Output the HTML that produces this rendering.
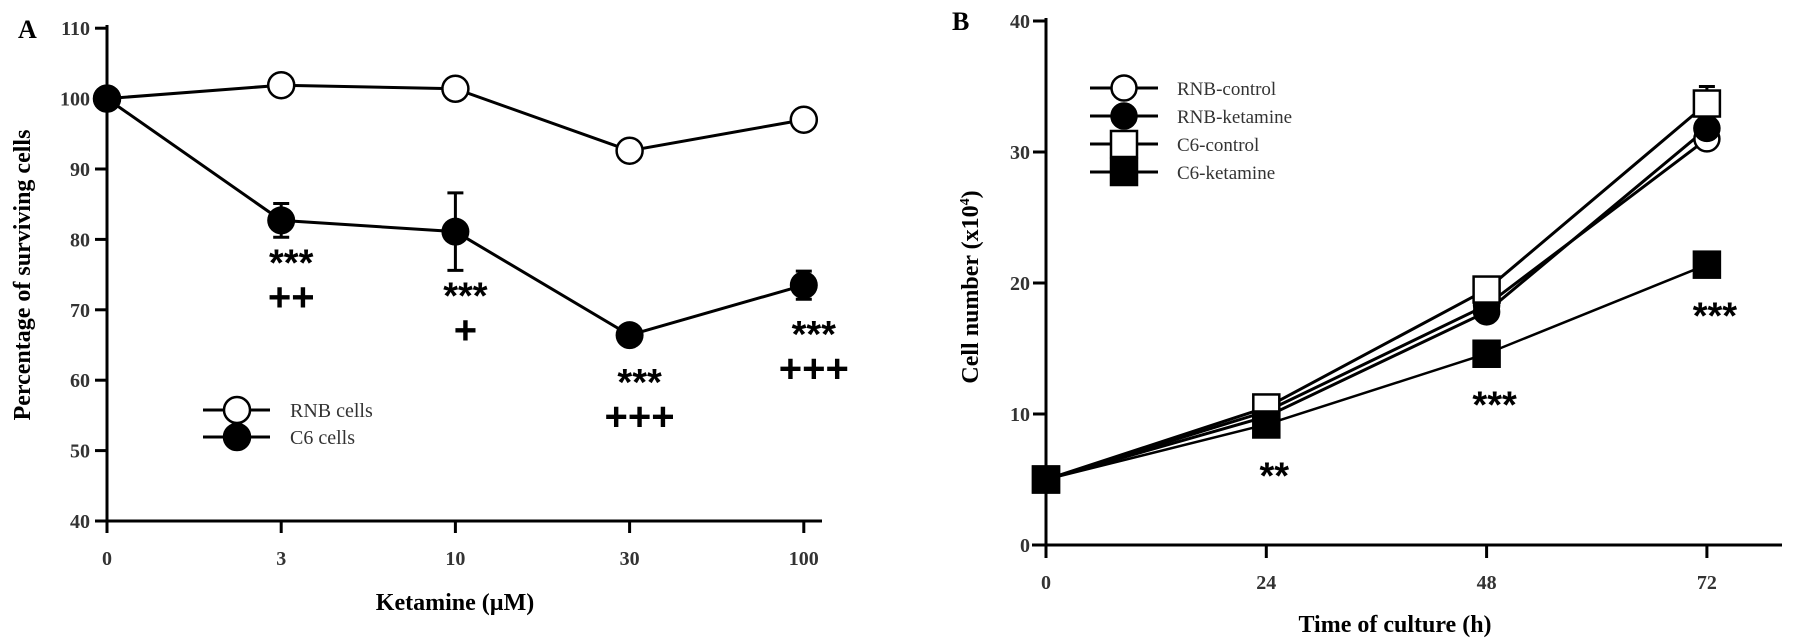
<!DOCTYPE html>
<html><head><meta charset="utf-8"><style>
html,body{margin:0;padding:0;background:#fff;}
svg{display:block;font-family:"Liberation Serif",serif;}
</style></head><body>
<svg id="fig" width="1795" height="643" viewBox="0 0 1795 643" xmlns="http://www.w3.org/2000/svg"></svg>
<script>
// Panel A data
const aCats = ["0","3","10","30","100"];
const aRNB = [100, 101.9, 101.4, 92.6, 97.0];
const aC6 = [100, 82.7, 81.1, 66.4, 73.5];
const aC6Err = [0, 2.4, 5.5, 0, 2.0];
const aYTicks = [40,50,60,70,80,90,100,110];
const aStars = ["", "***", "***", "***", "***"];
const aPlus = ["", "++", "+", "+++", "+++"];
// Panel B data
const bCats = [0,24,48,72];
const bRNBc = [5, 10.2, 18.3, 31.0];
const bRNBk = [5, 9.8, 17.8, 31.8];
const bC6c = [5, 10.5, 19.5, 33.7];
const bC6cErr = [0, 0, 0, 1.3];
const bC6k = [5, 9.2, 14.6, 21.4];
const bYTicks = [0,10,20,30,40];
const bStars = ["", "**", "***", "***"];

const svg = document.getElementById('fig');
const NS = "http://www.w3.org/2000/svg";
function mk(tag, attrs, parent){const e=document.createElementNS(NS,tag);for(const k in attrs)e.setAttribute(k,attrs[k]);(parent||svg).appendChild(e);return e;}
function txt(s, attrs){const e=mk('text',attrs);e.textContent=s;return e;}

// ---- Panel A ----
const ax = i => 107 + i*174.2;
const ay = v => 521 - (v-40)*7.04;
let e;
e=txt("A",{x:18,y:38,'font-size':26,'font-weight':'bold'});

e=mk('line',{x1:107,y1:25,x2:107,y2:527,stroke:'#000','stroke-width':3});

e=mk('line',{x1:105,y1:521,x2:822,y2:521,stroke:'#000','stroke-width':3});

aYTicks.forEach(v=>{
  mk('line',{x1:95,y1:ay(v),x2:107,y2:ay(v),stroke:'#000','stroke-width':3});
  e=txt(String(v),{x:90,y:ay(v)+7,'font-size':20,'font-weight':'bold','text-anchor':'end',fill:'#333'});
  
});
aCats.forEach((c,i)=>{
  mk('line',{x1:ax(i),y1:521,x2:ax(i),y2:533,stroke:'#000','stroke-width':3});
  e=txt(c,{x:ax(i),y:565,'font-size':20,'font-weight':'bold','text-anchor':'middle',fill:'#333'});
  
});
e=txt("Ketamine (µM)",{x:455,y:610,'font-size':24,'font-weight':'bold','text-anchor':'middle'});

e=txt("Percentage of surviving cells",{x:0,y:0,'font-size':24,'font-weight':'bold','text-anchor':'middle',transform:'translate(30,275) rotate(-90)'});

e=mk('polyline',{points:aRNB.map((v,i)=>ax(i)+','+ay(v)).join(' '),fill:'none',stroke:'#000','stroke-width':3});

e=mk('polyline',{points:aC6.map((v,i)=>ax(i)+','+ay(v)).join(' '),fill:'none',stroke:'#000','stroke-width':3});

aC6Err.forEach((er,i)=>{
  if(!er)return;
  const x=ax(i);
  mk('line',{x1:x,y1:ay(aC6[i]+er),x2:x,y2:ay(aC6[i]-er),stroke:'#000','stroke-width':3});
  mk('line',{x1:x-8,y1:ay(aC6[i]+er),x2:x+8,y2:ay(aC6[i]+er),stroke:'#000','stroke-width':3});
  mk('line',{x1:x-8,y1:ay(aC6[i]-er),x2:x+8,y2:ay(aC6[i]-er),stroke:'#000','stroke-width':3});
});
aRNB.forEach((v,i)=>{
  e=mk('circle',{cx:ax(i),cy:ay(v),r:13,fill:'#fff',stroke:'#000','stroke-width':2.5});
  
});
aC6.forEach((v,i)=>{
  e=mk('circle',{cx:ax(i),cy:ay(v),r:14,fill:'#000'});
  
});
aStars.forEach((s,i)=>{
  if(!s)return;
  const base = i===4 ? ay(aC6[i])+62 : (i===3 ? ay(aC6[i])+60 : ay(aC6[i]+(-aC6Err[i]))+38);
  e=txt(s,{x:ax(i)+10,y:base,'font-size':38,'font-weight':'bold','text-anchor':'middle','font-family':'Liberation Sans, sans-serif'});
  
  e=txt(aPlus[i],{x:ax(i)+10,y:base+35,'font-size':40,'font-weight':'bold','text-anchor':'middle','font-family':'Liberation Sans, sans-serif'});
  
});
[["RNB cells","#fff",410],["C6 cells","#000",437]].forEach(([t,f,y])=>{
  mk('line',{x1:203,y1:y,x2:270,y2:y,stroke:'#000','stroke-width':3});
  mk('circle',{cx:237,cy:y,r:13,fill:f,stroke:'#000','stroke-width':2.5});
  e=txt(t,{x:290,y:y+7,'font-size':20,fill:'#333'});
  
});

// ---- Panel B ----
const bx = h => 1046 + h/24*220.3;
const by = v => 545 - v*13.1;
e=txt("B",{x:952,y:30,'font-size':26,'font-weight':'bold'});

e=mk('line',{x1:1046,y1:18,x2:1046,y2:558,stroke:'#000','stroke-width':3});

e=mk('line',{x1:1032,y1:545,x2:1782,y2:545,stroke:'#000','stroke-width':3});

bYTicks.forEach(v=>{
  mk('line',{x1:1033,y1:by(v),x2:1046,y2:by(v),stroke:'#000','stroke-width':3});
  e=txt(String(v),{x:1030,y:by(v)+7,'font-size':20,'font-weight':'bold','text-anchor':'end',fill:'#333'});
  
});
bCats.forEach(h=>{
  mk('line',{x1:bx(h),y1:545,x2:bx(h),y2:558,stroke:'#000','stroke-width':3});
  e=txt(String(h),{x:bx(h),y:589,'font-size':20,'font-weight':'bold','text-anchor':'middle',fill:'#333'});
  
});
e=txt("Time of culture (h)",{x:1395,y:632,'font-size':24,'font-weight':'bold','text-anchor':'middle'});

e=txt("Cell number (x10",{x:0,y:0,'font-size':24,'font-weight':'bold','text-anchor':'middle',transform:'translate(978,287) rotate(-90)'});

const sup=mk('tspan',{'font-size':14,dy:-9},e);sup.textContent="4";
const cl=mk('tspan',{dy:9},e);cl.textContent=")";

const series=[
  {name:'c6-ketamine',d:bC6k,shape:'sq',fill:'#000',w:2.5},
  {name:'rnb-control',d:bRNBc,shape:'ci',fill:'#fff',w:3},
  {name:'rnb-ketamine',d:bRNBk,shape:'ci',fill:'#000',w:3},
  {name:'c6-control',d:bC6c,shape:'sq',fill:'#fff',w:3}
];
series.forEach(s=>{
  e=mk('polyline',{points:s.d.map((v,i)=>bx(bCats[i])+','+by(v)).join(' '),fill:'none',stroke:'#000','stroke-width':s.w});
  
});
bC6cErr.forEach((er,i)=>{
  if(!er)return;
  const x=bx(bCats[i]);
  mk('line',{x1:x,y1:by(bC6c[i]+er),x2:x,y2:by(bC6c[i]),stroke:'#000','stroke-width':3});
  mk('line',{x1:x-8,y1:by(bC6c[i]+er),x2:x+8,y2:by(bC6c[i]+er),stroke:'#000','stroke-width':3});
});
const order=[series[1],series[2],series[3],series[0]];
order.forEach(s=>{
  s.d.forEach((v,i)=>{
    const x=bx(bCats[i]),y=by(v);
    if(s.shape==='ci') e=mk('circle',{cx:x,cy:y,r:12.5,fill:s.fill,stroke:'#000','stroke-width':2.5});
    else e=mk('rect',{x:x-13,y:y-13,width:26,height:26,fill:s.fill,stroke:'#000','stroke-width':2.5});
    
  });
});
bStars.forEach((s,i)=>{
  if(!s)return;
  e=txt(s,{x:bx(bCats[i])+8,y:by(bC6k[i])+64,'font-size':38,'font-weight':'bold','text-anchor':'middle','font-family':'Liberation Sans, sans-serif'});
  
});
[["RNB-control",'ci','#fff',88],["RNB-ketamine",'ci','#000',116],["C6-control",'sq','#fff',144],["C6-ketamine",'sq','#000',172]].forEach(([t,sh,f,y])=>{
  mk('line',{x1:1090,y1:y,x2:1158,y2:y,stroke:'#000','stroke-width':3});
  if(sh==='ci') mk('circle',{cx:1124,cy:y,r:12.5,fill:f,stroke:'#000','stroke-width':2.5});
  else mk('rect',{x:1111,y:y-13,width:26,height:26,fill:f,stroke:'#000','stroke-width':2.5});
  e=txt(t,{x:1177,y:y+7,'font-size':19,fill:'#333'});
  
});
</script>
</body></html>
